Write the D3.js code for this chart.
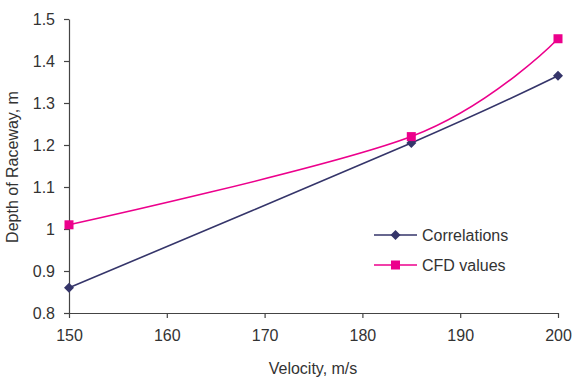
<!DOCTYPE html>
<html><head><meta charset="utf-8">
<script src="https://cdn.jsdelivr.net/npm/d3@7"></script>
<style>body{margin:0;background:#fff}svg{display:block}text{font-family:"Liberation Sans",Arial,sans-serif;fill:#333}</style>
</head><body><svg id="c" width="574" height="380"></svg>
<script>
const velocity = [150, 185, 200];
const correlations = [0.86, 1.205, 1.365];
const cfdValues = [1.01, 1.22, 1.453];
const xTicks = [150, 160, 170, 180, 190, 200];
const yTicks = [0.8, 0.9, 1, 1.1, 1.2, 1.3, 1.4, 1.5];
const seriesNames = ["Correlations", "CFD values"];

const svg = d3.select("#c");
const x = d3.scaleLinear().domain([150, 200]).range([69, 558]);
const y = d3.scaleLinear().domain([0.8, 1.5]).range([313, 19]);
const axisColor = "#444";

const xa = svg.append("g").attr("transform", "translate(0,313)")
  .call(d3.axisBottom(x).tickValues(xTicks).tickFormat(d3.format("d")).tickSizeOuter(0).tickSizeInner(5).tickPadding(12));
const ya = svg.append("g").attr("transform", "translate(69,0)")
  .call(d3.axisLeft(y).tickValues(yTicks).tickFormat(d => String(d)).tickSizeOuter(0).tickSizeInner(5).tickPadding(9));
[xa, ya].forEach(a => {
  a.selectAll("path,line").attr("stroke", axisColor).attr("stroke-width", 1.2);
  a.selectAll("text").style("font-size", "16px").attr("fill", "#333");
});

const line = d3.line().curve(d3.curveCardinal.tension(0));
const colors = ["#35356a", "#ec008c"];
const data = [correlations, cfdValues];

data.forEach((vals, i) => {
  const pts = velocity.map((v, j) => [x(v), y(vals[j])]);
  svg.append("path").attr("d", line(pts)).attr("fill", "none")
    .attr("stroke", colors[i]).attr("stroke-width", 1.6);
});
function marker(g, i, cx, cy) {
  if (i === 0) {
    g.append("path").attr("d", `M${cx},${cy-5}L${cx+5},${cy}L${cx},${cy+5}L${cx-5},${cy}Z`).attr("fill", colors[0]);
  } else {
    g.append("rect").attr("x", cx-4.5).attr("y", cy-4.5).attr("width", 9).attr("height", 9).attr("fill", colors[1]);
  }
}
data.forEach((vals, i) => {
  const g = svg.append("g");
  velocity.forEach((v, j) => marker(g, i, x(v), y(vals[j])));
});

// legend
seriesNames.forEach((name, i) => {
  const ly = 235 + i * 30;
  svg.append("line").attr("x1", 374).attr("x2", 417).attr("y1", ly).attr("y2", ly)
    .attr("stroke", colors[i]).attr("stroke-width", 1.6);
  marker(svg, i, 395.5, ly);
  svg.append("text").attr("x", 422).attr("y", ly + 6).style("font-size", "16px").text(name);
});

svg.append("text").attr("x", 313).attr("y", 374).attr("text-anchor", "middle").style("font-size", "16px").text("Velocity, m/s");
svg.append("text").attr("transform", "translate(18,167) rotate(-90)").attr("text-anchor", "middle").style("font-size", "16px").text("Depth of Raceway, m");
</script></body></html>
